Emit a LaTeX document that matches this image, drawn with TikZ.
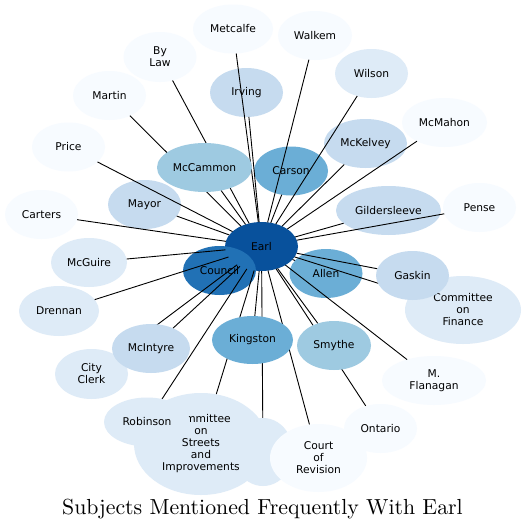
\documentclass[tikz,border=0pt]{standalone}
\usepackage{fontspec}
\usetikzlibrary{shapes.geometric}
\newfontfamily\labelfont{DejaVu Sans}
\newfontfamily\titlefont{lmroman10-regular}[Extension=.otf]
\definecolor{tone1}{RGB}{8,81,156}
\definecolor{tone2}{RGB}{33,113,181}
\definecolor{tone3}{RGB}{107,174,214}
\definecolor{tone4}{RGB}{158,202,225}
\definecolor{tone5}{RGB}{198,219,239}
\definecolor{tone6}{RGB}{222,235,247}
\definecolor{tone7}{RGB}{247,251,255}
\pgfdeclarelayer{front}
\pgfsetlayers{main,front}

\begin{document}
\begin{tikzpicture}[x=1pt,y=-1pt,every node/.style={ellipse, inner sep=0pt, outer sep=0pt, minimum width=73pt, minimum height=49pt, align=center, font=\labelfont\fontsize{10.7}{12}\selectfont},
  edge/.style={line width=0.9pt}]
\path[fill=white] (0,0) rectangle (526,530);

% centre and the nodes that lie under the spokes
\node[fill=tone1] (earl) at (261.5,246.5) {Earl};
\node[fill=tone2] (council) at (219.5,270.5) {Council};
\node[fill=tone7, minimum width=80pt] (metcalfe) at (233,29) {Metcalfe};
\node[fill=tone7, minimum width=74pt] (walkem) at (315,35.5) {Walkem};
\node[fill=tone7, minimum height=50pt] (bylaw) at (160,57) {By\\Law};
\node[fill=tone5] (irving) at (246.5,92.5) {Irving};
\node[fill=tone6] (wilson) at (371.5,73.5) {Wilson};
\node[fill=tone7] (martin) at (109.5,95.5) {Martin};
\node[fill=tone7, minimum width=85pt] (mcmahon) at (444.5,122.5) {McMahon};
\node[fill=tone5, minimum width=83pt] (mckelvey) at (365.5,143.5) {McKelvey};
\node[fill=tone7] (price) at (68.5,147) {Price};
\node[fill=tone3, minimum width=74pt] (carson) at (291,171) {Carson};
\node[fill=tone5] (mayor) at (144.5,204.5) {Mayor};
\node[fill=tone7] (pense) at (479.5,207.5) {Pense};
\node[fill=tone5, minimum width=105pt] (gildersleeve) at (388.5,210.5) {Gildersleeve};
\node[fill=tone7] (carters) at (41.5,214.5) {Carters};
\node[fill=tone6, minimum width=76pt] (mcguire) at (89,262.5) {McGuire};
\node[fill=tone3] (allen) at (326,273.5) {Allen};
\node[fill=tone6, minimum width=80pt, minimum height=50pt] (drennan) at (59,311) {Drennan};
\node[fill=tone6, minimum width=116pt, minimum height=68pt] (finance) at (463,310) {Committee\\on\\Finance};
\node[fill=tone6, minimum height=50pt] (clerk) at (91.5,374) {City\\Clerk};
\node[fill=tone7, minimum width=104pt] (flanagan) at (434,380.5) {M.\\Flanagan};

% nodes that cover the spokes
\begin{pgfonlayer}{front}
\node[fill=tone4, minimum width=95pt] (mccammon) at (204.5,167.5) {McCammon};
\node[fill=tone5, minimum width=78pt] (mcintyre) at (151,348.5) {McIntyre};
\node[fill=tone3, minimum width=81pt, minimum height=48pt] (kingston) at (252.5,340) {Kingston};
\node[fill=tone4, minimum width=74pt] (smythe) at (334,345.5) {Smythe};
\node[fill=tone5] (gaskin) at (412.5,275.5) {Gaskin};
\node[fill=tone6, minimum width=60pt, minimum height=68pt] (extra) at (263,452) {};
\node[fill=tone6, minimum width=134pt, minimum height=102pt] (streets) at (201,444) {Committee\\on\\Streets\\and\\Improvements};
\node[fill=tone6, minimum width=86pt] (robinson) at (147,422) {Robinson};
\node[fill=tone7, minimum width=97pt, minimum height=68pt] (revision) at (318.5,458) {Court\\of\\Revision};
\node[fill=tone7] (ontario) at (380.5,428.5) {Ontario};
\end{pgfonlayer}

% spokes
\foreach \n in {metcalfe,walkem,bylaw,irving,wilson,martin,mcmahon,mckelvey,price,carson,
  mayor,pense,gildersleeve,carters,mcguire,allen,drennan,finance,clerk,flanagan,
  mccammon,mcintyre,kingston,smythe,gaskin,extra,streets,robinson,revision,ontario}
  \draw[edge] (earl) -- (\n);

\node[shape=rectangle, minimum size=0pt, font=\titlefont\fontsize{21.8}{26}\selectfont] (title) at (262.5,509) {Subjects Mentioned Frequently With Earl};
\end{tikzpicture}
\end{document}
